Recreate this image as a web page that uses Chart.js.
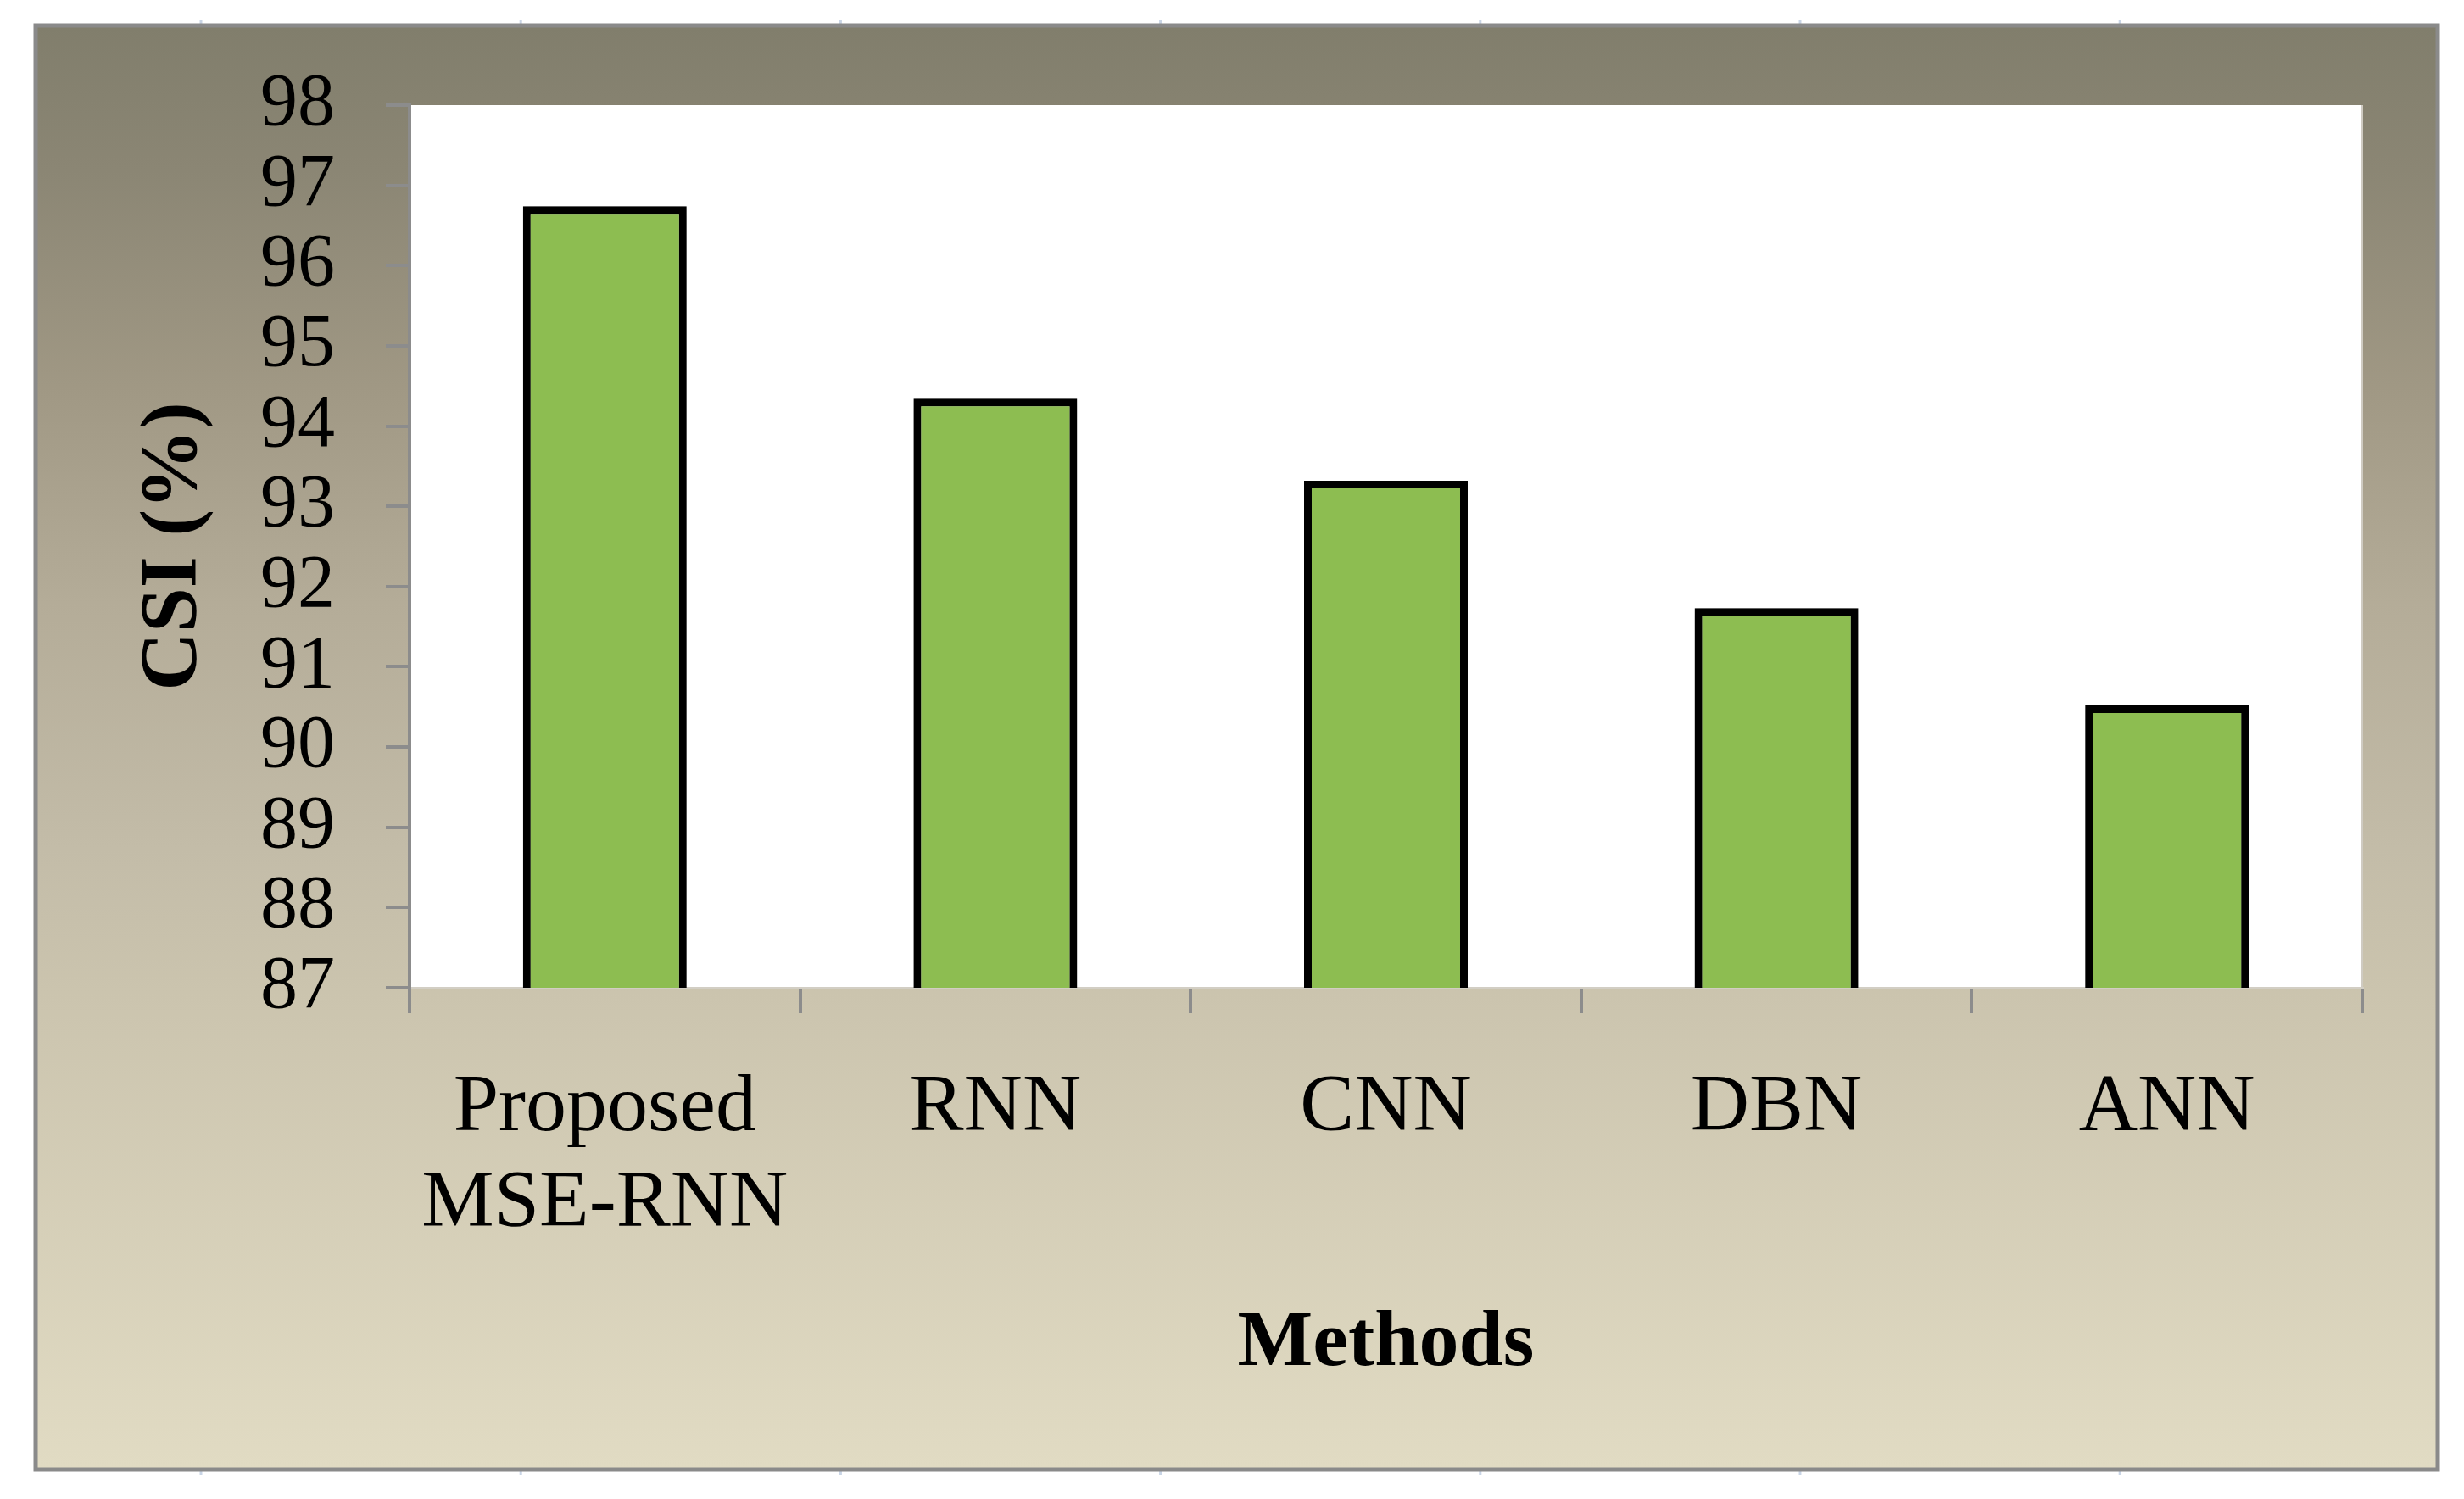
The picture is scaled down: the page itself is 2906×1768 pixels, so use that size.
<!DOCTYPE html>
<html>
<head>
<meta charset="utf-8">
<script src="https://cdn.jsdelivr.net/npm/chart.js@4.4.1/dist/chart.umd.min.js"></script>
<style>
html,body{margin:0;padding:0;background:#ffffff;overflow:hidden;}
#c{display:block;}
</style>
</head>
<body>
<canvas id="c" width="2906" height="1768" style="width:2906px;height:1768px"></canvas>
<script>
// ---- data ----
const categories = [["Proposed", "MSE-RNN"], "RNN", "CNN", "DBN", "ANN"];
const csiValues = [96.74, 94.34, 93.32, 91.73, 90.52];
const yMin = 87;
const yMax = 98;
const yStep = 1;
const yAxisTitle = "CSI (%)";
const xAxisTitle = "Methods";

// ---- styling ----
const SERIF = "'Liberation Serif', 'Times New Roman', serif";
const AXIS_GRAY = "#8c8c8c";

const framePlugin = {
  id: "frame",
  beforeDraw(chart) {
    const ctx = chart.ctx;
    const W = chart.width, H = chart.height;
    ctx.save();
    ctx.fillStyle = "#ffffff";
    ctx.fillRect(0, 0, W, H);
    // page guide marks
    ctx.fillStyle = "#c9d5e6";
    for (let i = 0; i < 7; i++) {
      const x = 237 + i * 377.2;
      ctx.fillRect(x - 1.5, 23, 3, 6);
      ctx.fillRect(x - 1.5, 1734, 3, 6);
    }
    // frame with gradient
    const fx = 43, fy = 31, fw = 2831, fh = 1701;
    const g = ctx.createLinearGradient(0, fy, 0, fy + fh);
    g.addColorStop(0.00, "#817e6c");
    g.addColorStop(0.10, "#8b8674");
    g.addColorStop(0.25, "#a09884");
    g.addColorStop(0.40, "#b4ac98");
    g.addColorStop(0.57, "#c3bca8");
    g.addColorStop(0.67, "#cbc4ae");
    g.addColorStop(1.00, "#e1dbc3");
    ctx.fillStyle = g;
    ctx.fillRect(fx, fy, fw, fh);
    ctx.strokeStyle = "#8a8a8a";
    ctx.lineWidth = 5;
    ctx.strokeRect(fx - 1, fy - 1, fw + 2, fh + 2);
    // plot area
    const a = chart.chartArea;
    ctx.fillStyle = "#ffffff";
    ctx.fillRect(a.left, a.top, a.right - a.left, a.bottom - a.top);
    ctx.fillStyle = "#cfcbc2";
    ctx.fillRect(a.right - 1, a.top, 2, a.bottom - a.top);
    ctx.restore();
  }
};

const shadowPlugin = {
  id: "barShadow",
  beforeDatasetsDraw(chart) {
    const ctx = chart.ctx;
    ctx.save();
    ctx.shadowColor = "rgba(0,0,0,0.28)";
    ctx.shadowBlur = 16;
    ctx.shadowOffsetX = 0;
    ctx.shadowOffsetY = 0;
  },
  afterDatasetsDraw(chart) {
    chart.ctx.restore();
  }
};

new Chart(document.getElementById("c"), {
  type: "bar",
  data: {
    labels: categories,
    datasets: [{
      label: yAxisTitle,
      data: csiValues,
      backgroundColor: "#8dbd51",
      borderColor: "#000000",
      borderWidth: 9,
      borderSkipped: false,
      barPercentage: 0.419,
      categoryPercentage: 1.0
    }]
  },
  options: {
    responsive: false,
    animation: false,
    devicePixelRatio: 1,
    layout: { padding: { top: 124, right: 120, left: 83, bottom: 103 } },
    plugins: {
      legend: { display: false },
      title: { display: false },
      tooltip: { enabled: false }
    },
    scales: {
      x: {
        type: "category",
        offset: true,
        grid: {
          offset: true,
          drawOnChartArea: false,
          drawTicks: true,
          tickLength: 30,
          color: AXIS_GRAY,
          lineWidth: 4
        },
        border: { display: true, color: "#d2cec4", width: 2 },
        ticks: {
          color: "#000000",
          font: { family: SERIF, size: 96, lineHeight: 1.17 },
          padding: 57,
          maxRotation: 0,
          minRotation: 0,
          autoSkip: false
        },
        title: {
          display: true,
          text: xAxisTitle,
          color: "#000000",
          font: { family: SERIF, size: 94, weight: "bold", lineHeight: 1.2 },
          padding: { top: 0, bottom: 23 }
        },
        afterFit(scale) { scale.height = 500; }
      },
      y: {
        min: yMin,
        max: yMax,
        grid: {
          drawOnChartArea: false,
          drawTicks: true,
          tickLength: 28,
          color: AXIS_GRAY,
          lineWidth: 4
        },
        border: { display: true, color: AXIS_GRAY, width: 4 },
        ticks: {
          stepSize: yStep,
          autoSkip: false,
          color: "#000000",
          font: { family: SERIF, size: 88, lineHeight: 1.0 },
          padding: 60
        },
        title: {
          display: true,
          text: yAxisTitle,
          color: "#000000",
          font: { family: SERIF, size: 95, weight: "bold", lineHeight: 1.2 },
          padding: { top: 66, bottom: 0 }
        },
        afterFit(scale) { scale.width = 400; }
      }
    }
  },
  plugins: [framePlugin, shadowPlugin]
});
</script>
</body>
</html>
